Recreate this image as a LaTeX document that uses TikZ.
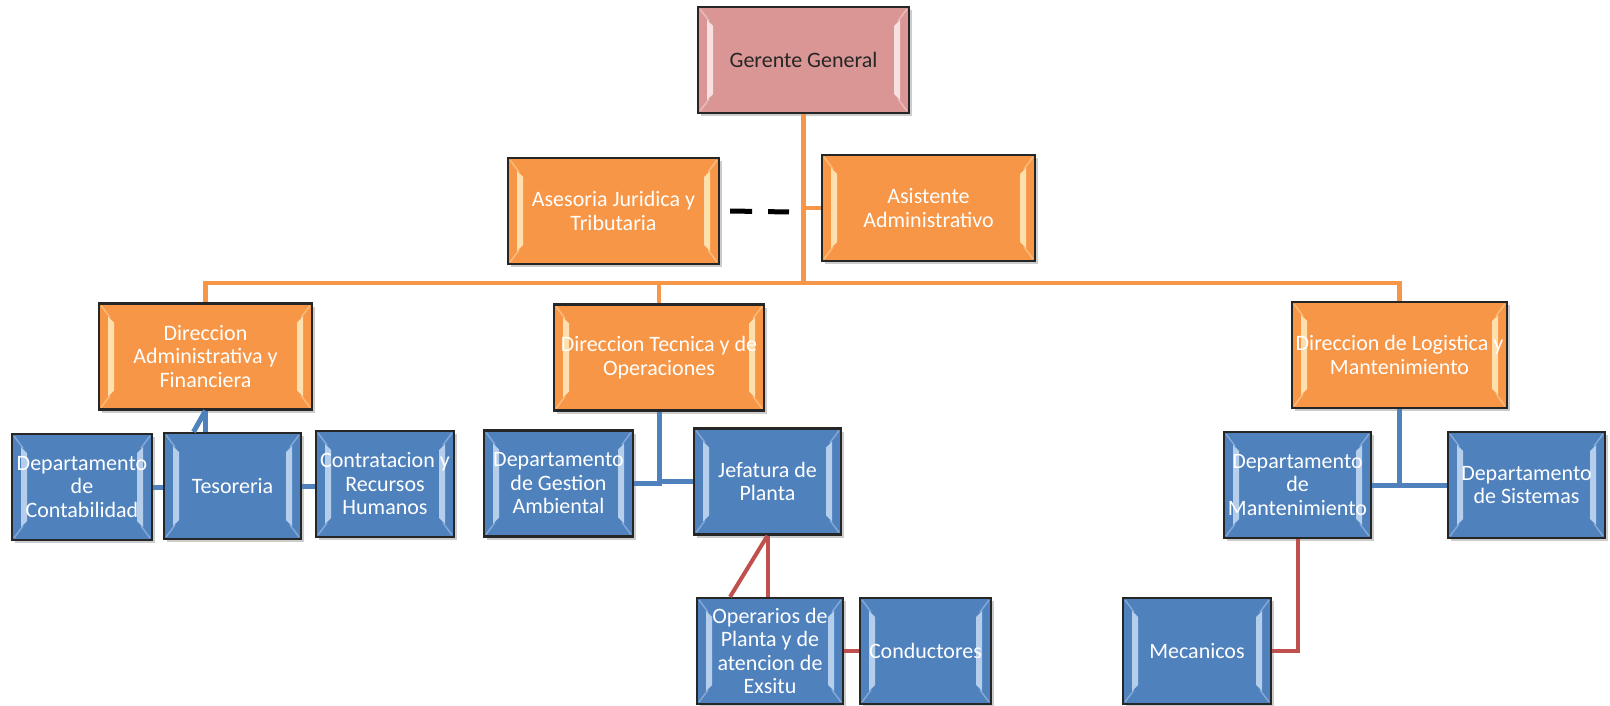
\documentclass[tikz,border=0pt]{standalone}
\usepackage{fontspec}
\setmainfont{Carlito}
\usetikzlibrary{shadows}

\definecolor{ggpink}{HTML}{D99694}
\definecolor{orgfill}{HTML}{F79646}
\definecolor{bluefill}{HTML}{4F81BD}
\definecolor{redline}{HTML}{C0504D}
\definecolor{orglight}{HTML}{FFF3C8}
\definecolor{bluelight}{HTML}{CFE2F7}
\definecolor{pinklight}{HTML}{FFF4F4}

\begin{document}
\begin{tikzpicture}[
  x=1pt, y=-1pt,
  box/.style = {draw=black!85, line width=2.2pt, inner sep=0pt, align=center,
    minimum height=106pt, font=\fontsize{22}{23.5}\selectfont,
    drop shadow={opacity=0.4, shadow xshift=2.5pt, shadow yshift=-3pt},
    path picture={
      \foreach \s/\a/\b in {1/north west/south west, -1/north east/south east} {
        \fill[#1, opacity=0.8]
          ([xshift=\s*9pt,yshift=-13pt]path picture bounding box.\a) --
          ([xshift=\s*15pt,yshift=-19pt]path picture bounding box.\a) --
          ([xshift=\s*15pt,yshift=19pt]path picture bounding box.\b) --
          ([xshift=\s*9pt,yshift=13pt]path picture bounding box.\b) -- cycle;
        \draw[#1, opacity=0.4, line width=1.5pt]
          ([xshift=\s*2pt,yshift=-2pt]path picture bounding box.\a) --
          ([xshift=\s*11pt,yshift=-14pt]path picture bounding box.\a)
          ([xshift=\s*2pt,yshift=2pt]path picture bounding box.\b) --
          ([xshift=\s*11pt,yshift=14pt]path picture bounding box.\b);
      }
    }},
  ggbox/.style = {box=pinklight, fill=ggpink, text=black!85},
  dirbox/.style = {box=orglight, fill=orgfill, text=white},
  deptbox/.style = {box=bluelight, fill=bluefill, text=white},
  orgline/.style = {draw=orgfill, line width=4.5pt},
  blueline/.style = {draw=bluefill, line width=5pt},
  redl/.style = {draw=redline, line width=4pt}
]

  \fill[white] (0,0) rectangle (1610,706);
  \useasboundingbox (0,0) rectangle (1610,706);

  % Gerente General and staff
  \node[ggbox, minimum width=211pt] (gerente) at (803.5,60) {Gerente General};
  \node[dirbox, minimum width=211pt] (asesoria) at (613.5,211) {Asesoria Juridica y\\Tributaria};
  \node[dirbox, minimum width=213pt] (asistente) at (928.5,208) {Asistente\\Administrativo};

  % Direcciones
  \node[dirbox, minimum width=213pt] (diradmin) at (205.5,356.5) {Direccion\\Administrativa y\\Financiera};
  \node[dirbox, minimum width=210pt] (dirtecnica) at (659,357.5) {Direccion Tecnica y de\\Operaciones};
  \node[dirbox, minimum width=215pt] (dirlogistica) at (1399.5,355) {Direccion de Logistica y\\Mantenimiento};

  % Departamentos
  \node[deptbox, minimum width=140pt] (contab) at (82,487) {Departamento\\de\\Contabilidad};
  \node[deptbox, minimum width=137pt] (tesoreria) at (232.5,486) {Tesoreria};
  \node[deptbox, minimum width=138pt] (contratacion) at (385,484) {Contratacion y\\Recursos\\Humanos};
  \node[deptbox, minimum width=149pt] (gestion) at (558.5,483.5) {Departamento\\de Gestion\\Ambiental};
  \node[deptbox, minimum width=147pt] (jefatura) at (767.5,481.5) {Jefatura de\\Planta};
  \node[deptbox, minimum width=147pt] (mantenim) at (1297.5,485) {Departamento\\de\\Mantenimiento};
  \node[deptbox, minimum width=157pt] (sistemas) at (1526.5,485) {Departamento\\de Sistemas};

  % Personal operativo
  \node[deptbox, minimum width=146pt] (operarios) at (770,651) {Operarios de\\Planta y de\\atencion de\\Exsitu};
  \node[deptbox, minimum width=131pt] (conductores) at (925.5,651) {Conductores};
  \node[deptbox, minimum width=148pt] (mecanicos) at (1197,651) {Mecanicos};

  % Orange lines: gerente -> staff and direcciones
  \coordinate (bus) at (803,283);
  \coordinate (dashend) at (789,212);
  \draw[orgline] (gerente.south) -- (gerente.south |- bus);
  \draw[orgline] (gerente.south |- asistente.west) -- (asistente.west);
  \draw[black, line width=5pt, dash pattern=on 22pt off 16pt] ([xshift=10pt]asesoria.east) -- (dashend);
  \draw[orgline] (diradmin.north) |- (bus) -| (dirlogistica.north);
  \draw[orgline] (dirtecnica.north) -- (dirtecnica.north |- bus);

  % Blue lines: direcciones -> departamentos
  \draw[blueline] (diradmin.south) -- (diradmin.south |- tesoreria.north);
  \draw[blueline] (diradmin.south) -- ([xshift=-12pt]diradmin.south |- tesoreria.north);
  \draw[blueline] (contab.east) -- (contab.east -| tesoreria.west);
  \draw[blueline] (tesoreria.east) -- (tesoreria.east -| contratacion.west);
  \draw[blueline] (dirtecnica.south) |- (gestion.east);
  \draw[blueline] (dirtecnica.south) |- (jefatura.west);
  \draw[blueline] (dirlogistica.south) |- (mantenim.east);
  \draw[blueline] (dirlogistica.south) |- (sistemas.west);

  % Red lines: jefaturas -> personal
  \draw[redl] (jefatura.south) -- (jefatura.south |- operarios.north);
  \draw[redl] (jefatura.south) -- ([xshift=-40pt]operarios.north);
  \draw[redl] (operarios.east) -- (conductores.west);
  \draw[redl] (mantenim.south) |- (mecanicos.east);

\end{tikzpicture}
\end{document}
